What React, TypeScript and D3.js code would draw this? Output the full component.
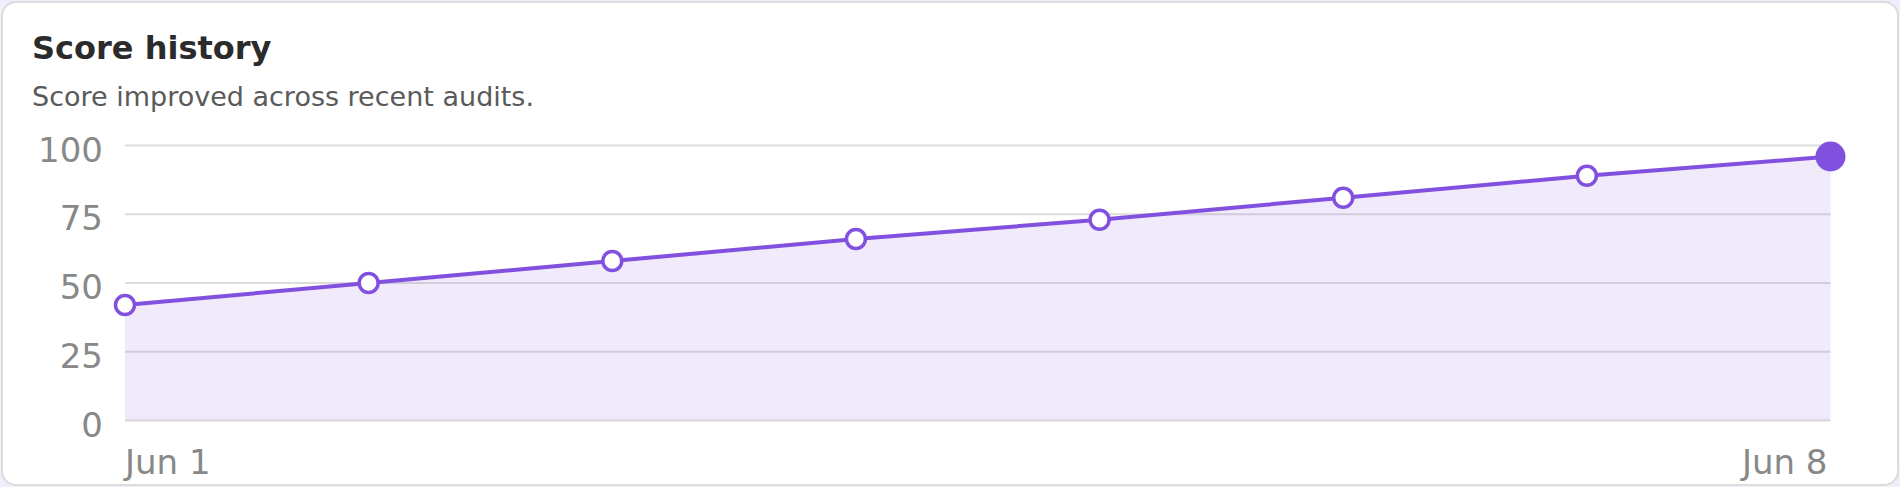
import React from 'react';
import * as d3 from 'd3';

// chart data
const dates = ['2024-06-01', '2024-06-02', '2024-06-03', '2024-06-04', '2024-06-05', '2024-06-06', '2024-06-07', '2024-06-08'];
const scores = [42, 50, 58, 66, 73, 81, 89, 96];
const yTicks = [0, 25, 50, 75, 100];
const xTickLabels = ['Jun 1', 'Jun 8'];

const W = 1900;
const H = 487;
const margin = { top: 145.5, right: 69.5, bottom: 66.5, left: 125 };
const purple = '#8250df';
const font = '"DejaVu Sans", sans-serif';

const App = () => {
  const parsed = dates.map((d) => new Date(d + 'T00:00:00'));
  const points = parsed.map((date, i) => ({ date, score: scores[i] }));

  const xScale = d3
    .scaleTime()
    .domain(d3.extent(parsed) as [Date, Date])
    .range([margin.left, W - margin.right]);

  const yScale = d3.scaleLinear().domain([0, 100]).range([H - margin.bottom, margin.top]);

  const line = d3
    .line<{ date: Date; score: number }>()
    .x((d) => xScale(d.date))
    .y((d) => yScale(d.score));

  const area = d3
    .area<{ date: Date; score: number }>()
    .x((d) => xScale(d.date))
    .y0(yScale(0))
    .y1((d) => yScale(d.score));

  const [x0, x1] = xScale.range();
  const last = points[points.length - 1];

  return (
    <div style={{ position: 'absolute', left: 0, top: 0 }}>
      <svg width={W} height={H} style={{ display: 'block' }}>
        <rect x={0} y={0} width={W} height={H} fill="#f1edfa" />
        <rect x={2} y={2} width={W - 4} height={H - 4} rx={14} fill="#fff" stroke="#dcdcdc" strokeWidth={2} />

        <text x={32} y={59} fontFamily={font} fontWeight="bold" fontSize={32} fill="#2b2b2b">
          Score history
        </text>
        <text x={32} y={105.5} fontFamily={font} fontSize={27} fill="#5a5a5a">
          Score improved across recent audits.
        </text>

        {/* grid + y labels */}
        {yTicks.map((t) => (
          <g key={t}>
            <line x1={x0} x2={x1} y1={yScale(t)} y2={yScale(t)} stroke="#dcdcdc" strokeWidth={2} />
            <text
              x={103}
              y={yScale(t) + 16}
              textAnchor="end"
              fontFamily={font}
              fontSize={34}
              fill="#888"
            >
              {t}
            </text>
          </g>
        ))}

        <path d={area(points) || ''} fill={purple} fillOpacity={0.12} />
        <path d={line(points) || ''} fill="none" stroke={purple} strokeWidth={4} />

        {points.slice(0, -1).map((d, i) => (
          <circle key={i} cx={xScale(d.date)} cy={yScale(d.score)} r={9.5} fill="#fff" stroke={purple} strokeWidth={3.5} />
        ))}
        <circle cx={xScale(last.date)} cy={yScale(last.score)} r={15} fill={purple} />

        {/* x labels, first and last only */}
        <text x={xScale(parsed[0])} y={474} fontFamily={font} fontSize={34} fill="#888">
          {xTickLabels[0]}
        </text>
        <text x={xScale(parsed[parsed.length - 1]) - 3} y={474} textAnchor="end" fontFamily={font} fontSize={34} fill="#888">
          {xTickLabels[1]}
        </text>
      </svg>
    </div>
  );
};

export default App;
